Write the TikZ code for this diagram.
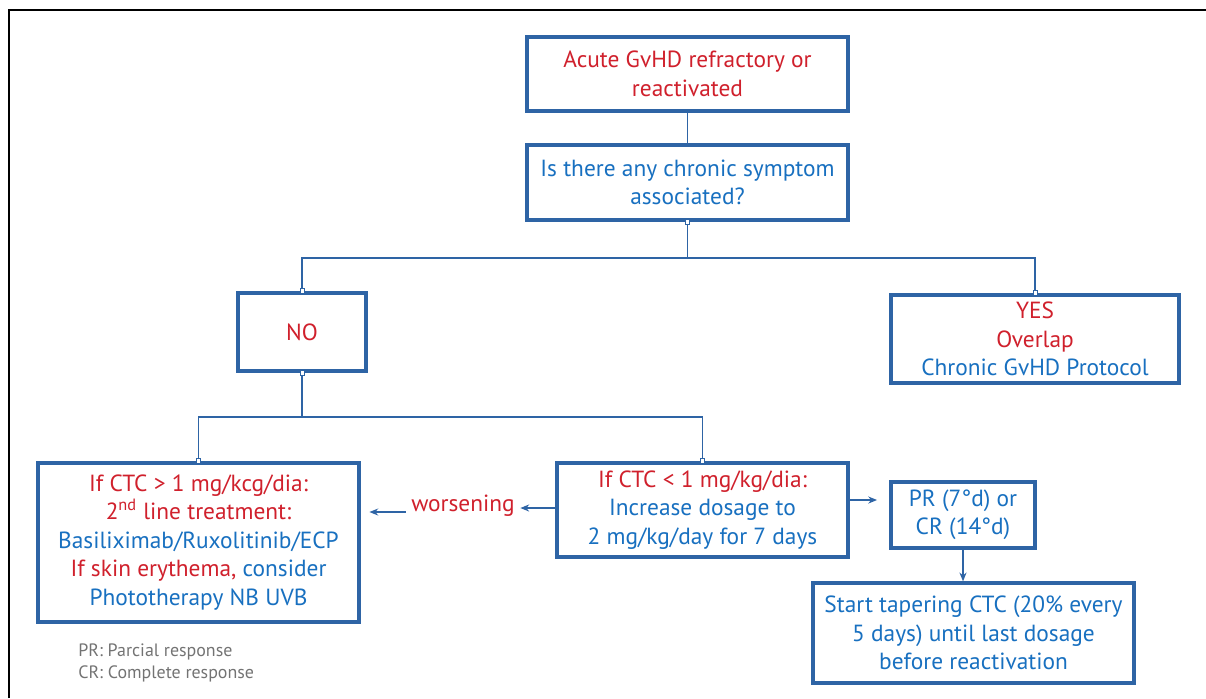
\documentclass[tikz,border=0pt]{standalone}
\usepackage{fontspec}
\setmainfont{PT Sans}
\usepackage{tikz}
\definecolor{boxblue}{RGB}{46,100,165}
\definecolor{tblue}{RGB}{24,112,192}
\definecolor{tred}{RGB}{208,32,44}
\definecolor{notegray}{RGB}{115,115,115}
\usetikzlibrary{arrows.meta}
\pgfdeclarelayer{edgelayer}
\pgfdeclarelayer{nodelayer}
\pgfsetlayers{edgelayer,nodelayer,main}
\tikzstyle{box}=[rectangle,fill=white,draw=boxblue,line width=1.9pt,align=center,inner sep=0pt,font=\fontsize{13.3}{16.2}\selectfont]
\tikzstyle{glue}=[rectangle,fill=white,draw=boxblue,line width=0.5pt,minimum width=0.08cm,minimum height=0.1cm,inner sep=0pt]
\tikzstyle{link}=[draw=boxblue,line width=0.85pt]
\tikzstyle{arrow}=[link,-{Stealth[length=5pt,width=4pt]}]
\newcommand{\rd}[1]{\textcolor{tred}{#1}}
\newcommand{\bl}[1]{\textcolor{tblue}{#1}}

\begin{document}
\begin{tikzpicture}[x=0.02cm,y=-0.02cm]
            \useasboundingbox (0,0) rectangle (1206,698);
            \draw [line width=1.2pt] (9,698) -- (9,10) -- (1206,10);

            \begin{pgfonlayer}{nodelayer}
            \node [style = box, minimum width=6.42cm, minimum height=1.48cm] (acute) at (687.5, 74) {\rd{Acute GvHD refractory or}\\\rd{reactivated}};
            \node [style = box, minimum width=6.42cm, minimum height=1.5cm] (question) at (687.5, 182.5) {\bl{Is there any chronic symptom}\\\bl{associated?}};

            \node [style = box, minimum width=2.56cm, minimum height=1.56cm] (no) at (302, 332) {\rd{NO}};
            \node [style = box, minimum width=5.76cm, minimum height=1.76cm] (yes) at (1035, 339) {\rd{YES}\\\rd{Overlap}\\\bl{Chronic GvHD Protocol}};

            \node [style = box, minimum width=6.42cm, minimum height=3.18cm] (ctcup) at (198.5, 542.5) {\rd{If CTC > 1 mg/kcg/dia:}\\\rd{2\textsuperscript{nd} line treatment:}\\\bl{Basiliximab/Ruxolitinib/ECP}\\\rd{If skin erythema,} \bl{consider}\\\bl{Phototherapy NB UVB}};
            \node [style = box, minimum width=5.82cm, minimum height=1.88cm] (ctclow) at (702.5, 510) {\rd{If CTC < 1 mg/kg/dia:}\\\bl{Increase dosage to}\\\bl{2 mg/kg/day for 7 days}};
            \node [font=\fontsize{13.3}{16.2}\selectfont, text=tred, inner sep=3pt] (worse) at (463, 506) {worsening};

            \node [style = box, minimum width=2.88cm, minimum height=1.32cm] (resp) at (963, 515) {\bl{PR (7°d) or}\\\bl{CR (14°d)}};
            \node [style = box, minimum width=6.42cm, minimum height=2cm] (taper) at (973.5, 633) {\bl{Start tapering CTC (20\% every}\\\bl{5 days) until last dosage}\\\bl{before reactivation}};

            \node [anchor=west, align=left, text=notegray, font=\fontsize{10.2}{12.6}\selectfont, inner sep=0pt] (notes) at (78, 663) {PR: Parcial response\\CR: Complete response};

            \node [style = glue] at (question.south) {};
            \node [style = glue] at (no.north) {};
            \node [style = glue] at (no.south) {};
            \node [style = glue] at (yes.north) {};
            \node [style = glue] at (ctcup.north) {};
            \node [style = glue] at (ctclow.north) {};
            \end{pgfonlayer}

        \begin{pgfonlayer}{edgelayer}
            \coordinate (split1) at (687.5, 258);
            \coordinate (split2) at (302, 417);

            \draw [style = link] (acute) to (question);
            \draw [style = link] (question) to (split1);
            \draw [style = link] (split1) -| (no);
            \draw [style = link] (split1) -| (yes);

            \draw [style = link] (no) to (split2);
            \draw [style = link] (split2) -| (ctcup);
            \draw [style = link] (split2) -| (ctclow);

            \draw [style = arrow] (ctclow.west |- 0, 508) to (worse.east |- 0, 508);
            \draw [style = arrow, shorten >=5] (worse.west |- 0, 512) to (ctcup.east |- 0, 512);
            \draw [style = arrow, shorten >=7] ([yshift=0.2cm]ctclow.east) to ([yshift=0.2cm]ctclow.east -| resp.west);
            \draw [style = arrow] (resp.south) to (resp.south |- taper.north);
        \end{pgfonlayer}
    \end{tikzpicture}
\end{document}
